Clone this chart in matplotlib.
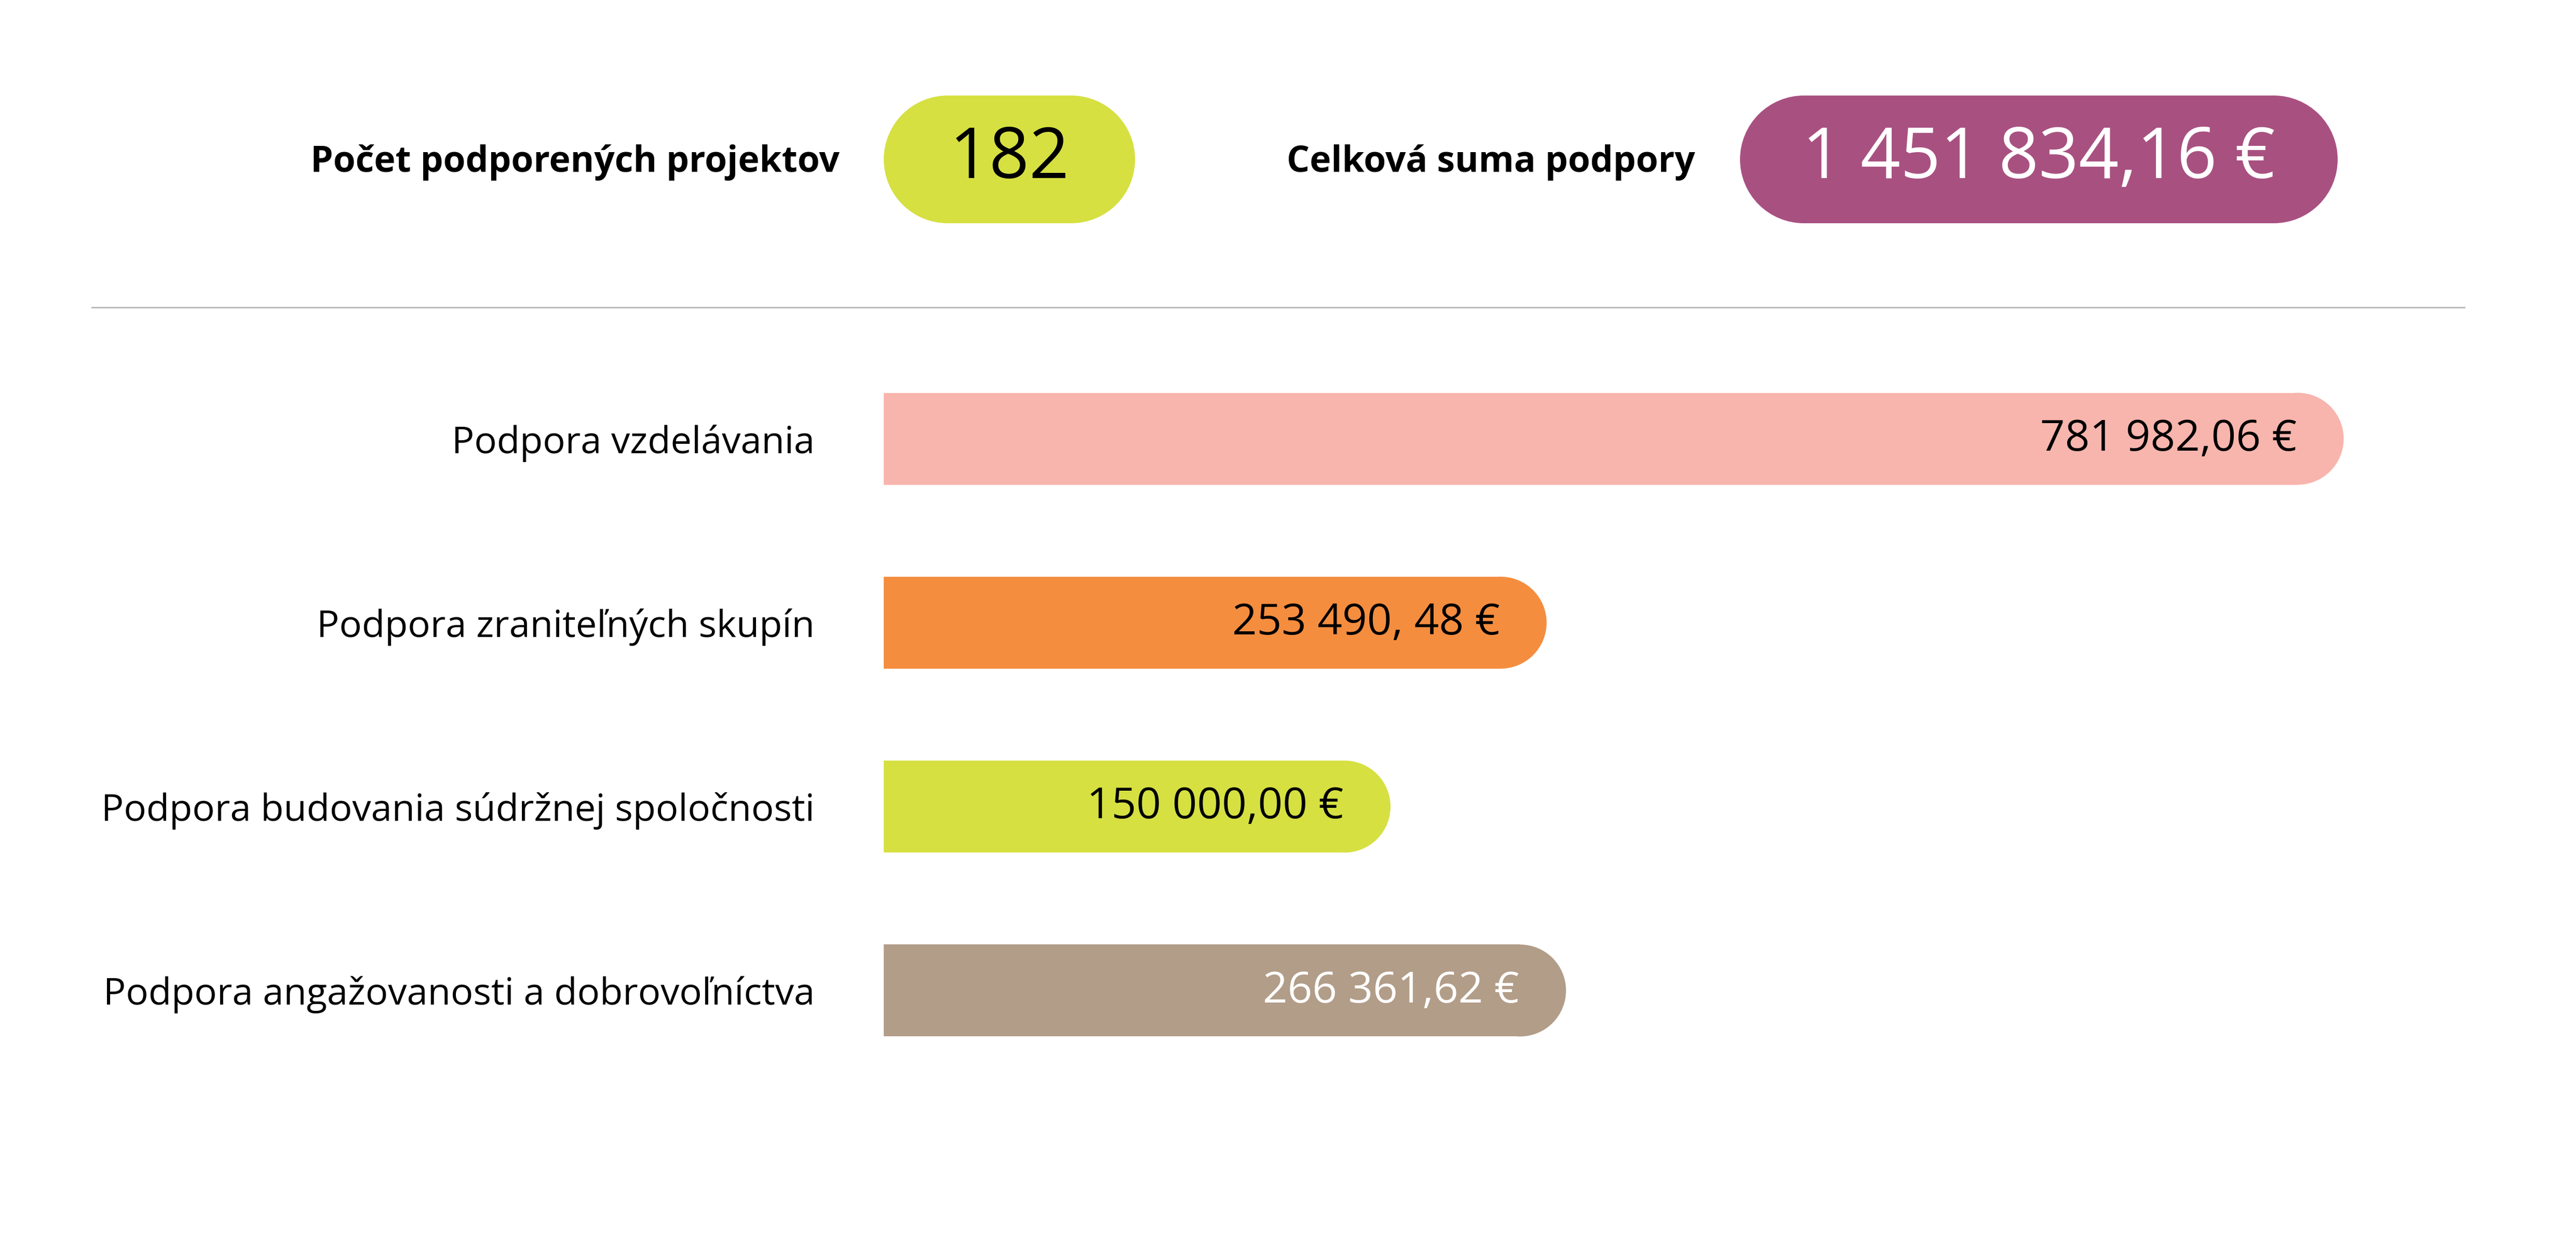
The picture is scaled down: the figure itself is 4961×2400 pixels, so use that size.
import matplotlib.pyplot as plt
from matplotlib.patches import Rectangle, Circle, Ellipse
from matplotlib.lines import Line2D
import numpy as np

plt.rcParams['font.family'] = ['Open Sans', 'DejaVu Sans']

# data
categories = ['Podpora vzdelávania',
              'Podpora zraniteľných skupín',
              'Podpora budovania súdržnej spoločnosti',
              'Podpora angažovanosti a dobrovoľníctva']
amounts = [781982.06, 253490.48, 150000.00, 266361.62]
amount_labels = ['781 982,06 €', '253 490, 48 €', '150 000,00 €', '266 361,62 €']
bar_colors = ['#f8b5ad', '#f58d3f', '#d6e041', '#b29d89']
label_colors = ['black', 'black', 'black', 'white']

projects_title = 'Počet podporených projektov'
projects_count = '182'
total_title = 'Celková suma podpory'
total_label = '1 451 834,16 €'

# layout (pixels)
W, H = 4961, 2400
BAR_LEFT, BAR_RIGHT = 1702, 4746
BAR_TOP, BAR_BOTTOM = 668, 2085
BAR_START, X_MAX = -186000, 862000

fig = plt.figure(figsize=(W / 100, H / 100), dpi=100)

# header in pixel units
top = fig.add_axes([0, 0, 1, 1])
top.set_xlim(0, W)
top.set_ylim(H, 0)
top.axis('off')


def pill(x0, x1, y0, y1, color, text, tcolor):
    h = y1 - y0
    r = h / 2
    yc = (y0 + y1) / 2
    top.add_patch(Rectangle((x0 + r, y0), x1 - x0 - 2 * r, h, fc=color, ec='none'))
    top.add_patch(Circle((x0 + r, yc), r, fc=color, ec='none'))
    top.add_patch(Circle((x1 - r, yc), r, fc=color, ec='none'))
    top.text((x0 + x1) / 2, yc, text, ha='center', va='center',
             fontsize=97, color=tcolor)


top.text(1617, 313, projects_title, ha='right', va='center', fontsize=50,
         fontweight='bold')
pill(1702, 2186, 184, 430, '#d6e041', projects_count, 'black')
top.text(3265, 313, total_title, ha='right', va='center', fontsize=50,
         fontweight='bold')
pill(3351, 4502, 184, 430, '#a85181', total_label, 'white')

fig.add_artist(Line2D([177 / W, 4746 / W], [1 - 592 / H, 1 - 592 / H],
                      color='#bcbcbc', lw=2.2))

# bars
ax = fig.add_axes([BAR_LEFT / W, 1 - BAR_BOTTOM / H,
                   (BAR_RIGHT - BAR_LEFT) / W, (BAR_BOTTOM - BAR_TOP) / H])
ax.patch.set_alpha(0)
y = np.arange(len(categories))
ax.set_xlim(BAR_START, X_MAX)
ax.set_ylim(len(categories) - 0.5, -0.5)

bar_h = 0.5
px_per_x = (BAR_RIGHT - BAR_LEFT) / (X_MAX - BAR_START)
px_per_y = (BAR_BOTTOM - BAR_TOP) / len(categories)
r_x = bar_h / 2 * px_per_y / px_per_x

vals = np.array(amounts)
ax.barh(y, vals - r_x - BAR_START, left=BAR_START, height=bar_h,
        color=bar_colors, linewidth=0)
for yi, v, c in zip(y, vals, bar_colors):
    ax.add_patch(Ellipse((v - r_x, yi), 2 * r_x, bar_h, fc=c, ec='none'))

for yi, v, lbl, lc in zip(y, vals, amount_labels, label_colors):
    ax.annotate(lbl, (v, yi), xytext=(-65, -1), textcoords='offset points',
                ha='right', va='center', fontsize=60, color=lc)

ax.set_yticks(y, categories, fontsize=52)
ax.set_xticks([])
ax.tick_params(length=0, pad=96)
for s in ax.spines.values():
    s.set_visible(False)

fig.savefig('out.png', dpi=100)
